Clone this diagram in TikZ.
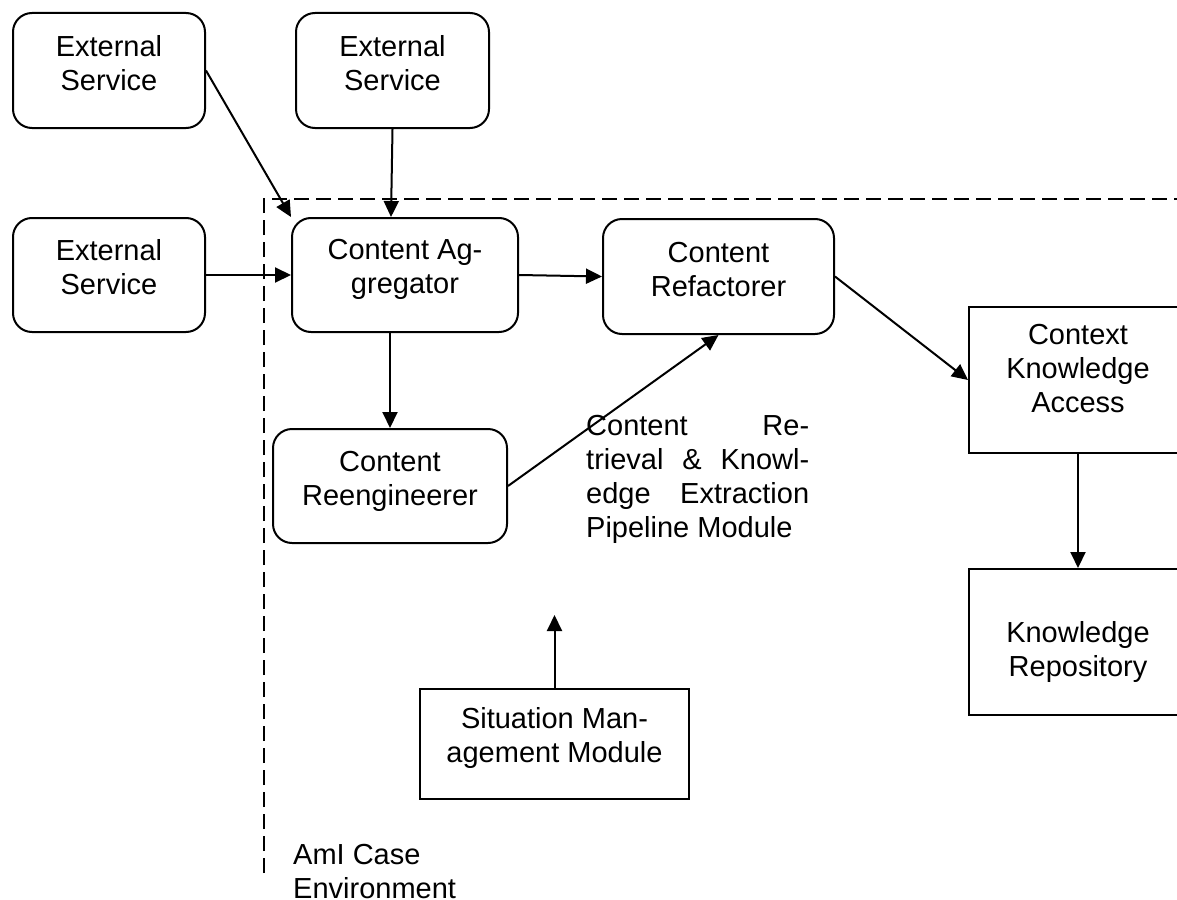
\documentclass[tikz,border=0pt]{standalone}
\usepackage{fontspec}
\setmainfont{Liberation Sans}
\usetikzlibrary{arrows.meta}
\begin{document}
\begin{tikzpicture}[x=1pt,y=-1pt,
  roundbox/.style={draw, line width=2pt, rounded corners=19pt, inner sep=0pt},
  squarebox/.style={draw, line width=2pt, inner sep=0pt},
  txt/.style={font=\fontsize{29}{34}\selectfont, align=center, inner sep=0pt, anchor=north},
  flow/.style={line width=2pt, -{Triangle[length=16pt,width=15pt]}},
  boundary/.style={line width=2pt, dash pattern=on 15pt off 7pt}]

% page frame
\fill[white] (0,0) rectangle (1177,899);
\useasboundingbox (0,0) rectangle (1177,899);

% boxes
\node[roundbox, minimum width=192pt, minimum height=115pt] (es1) at (109,70.5) {};
\node[roundbox, minimum width=193pt, minimum height=115pt] (es2) at (392.5,70.5) {};
\node[roundbox, minimum width=192pt, minimum height=114pt] (es3) at (109,275) {};
\node[roundbox, minimum width=226pt, minimum height=114pt] (agg) at (405,275) {};
\node[roundbox, minimum width=231pt, minimum height=115pt] (ref) at (718.5,276.5) {};
\node[roundbox, minimum width=234pt, minimum height=114pt] (reeng) at (390,486) {};
\node[squarebox, minimum width=218pt, minimum height=146pt] (ctx) at (1078,380) {};
\node[squarebox, minimum width=218pt, minimum height=146pt] (kr) at (1078,642) {};
\node[squarebox, minimum width=269pt, minimum height=110pt] (sit) at (554.5,744) {};

% box labels
\node[txt] (es1t) at (109,32.2) {\strut External\\Service};
\node[txt] (es2t) at (392.5,32.2) {\strut External\\Service};
\node[txt] (es3t) at (109,236.2) {\strut External\\Service};
\node[txt] (aggt) at (405,235.2) {\strut Content Ag-\\gregator};
\node[txt] (reft) at (718.5,238) {\strut Content\\Refactorer};
\node[txt] (reengt) at (390,447) {\strut Content\\Reengineerer};
\node[txt] (ctxt) at (1078,320.2) {\strut Context\\Knowledge\\Access};
\node[txt] (krt) at (1078,618.2) {\strut Knowledge\\Repository};
\node[txt] (sitt) at (554.5,704.2) {\strut Situation Man-\\agement Module};

% free-standing labels
\node[txt, anchor=north west, align=left] (pipe) at (586,411.2)
  {\makebox[223pt][s]{\strut Content Re-}\\
   \makebox[223pt][s]{trieval \& Knowl-}\\
   \makebox[223pt][s]{edge Extraction}\\
   Pipeline Module};
\node[txt, anchor=north west, align=left] (env) at (293,840.2)
  {\strut AmI Case\\Environment};

% environment boundary
\coordinate (bl) at (264,873);
\coordinate (tl) at (264,199);
\coordinate (tr) at (1190,199);
\draw[boundary] (bl) -- (tl) -- (tr);

% connectors
\draw[flow] (es1.east) -- (agg.north west);
\draw[flow] (es2.south) -- ([xshift=-14pt]agg.north);
\draw[flow] (es3.east) -- (agg.west);
\draw[flow] (agg.east) -- (ref.west);
\draw[flow] (agg.south -| reeng.north) -- (reeng.north);
\draw[flow] (reeng.east) -- (ref.south);
\draw[flow] (ref.east) -- (ctx.west);
\draw[flow] (ctx.south) -- (kr.north);
\coordinate (sittip) at (554.5,615);
\draw[flow] (sit.north) -- (sittip);
\end{tikzpicture}
\end{document}
